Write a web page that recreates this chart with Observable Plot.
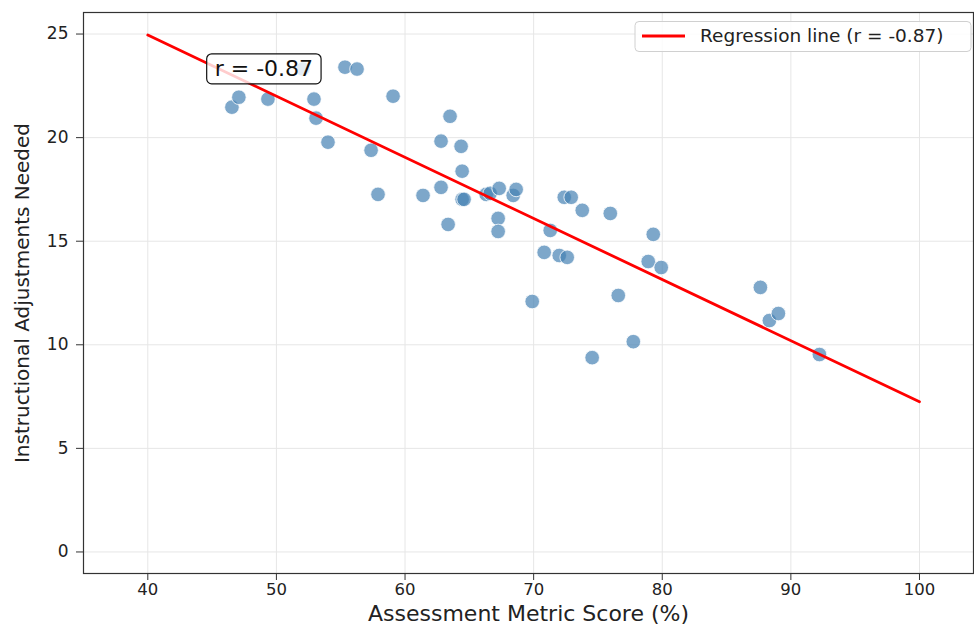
<!DOCTYPE html>
<html>
<head>
<meta charset="utf-8">
<script src="https://cdn.jsdelivr.net/npm/d3@7"></script>
<script src="https://cdn.jsdelivr.net/npm/@observablehq/plot@0.6"></script>
<style>
  body { margin: 0; background: #fff; }
  #chart { position: relative; width: 974px; height: 625px; }
  svg { font-family: "DejaVu Sans", sans-serif; }
</style>
</head>
<body>
<div id="chart"></div>
<script>
// ---- data ----
const scores = [46.54, 47.08, 49.34, 52.06, 52.92, 53.08, 54.01, 55.33, 56.27, 57.36,
  57.90, 59.07, 61.40, 62.80, 62.80, 63.35, 63.50, 64.36, 64.44, 64.44,
  64.59, 66.31, 66.62, 67.32, 67.24, 67.24, 68.41, 68.64, 69.89, 70.82,
  71.29, 71.99, 72.61, 72.38, 72.92, 73.78, 74.55, 75.96, 76.58, 77.75,
  78.91, 79.30, 79.92, 87.63, 88.33, 89.03, 92.22];
const adjustments = [21.47, 21.95, 21.86, 23.31, 21.86, 20.94, 19.78, 23.40, 23.31, 19.39,
  17.26, 22.00, 17.21, 19.83, 17.60, 15.81, 21.03, 19.58, 18.38, 17.02,
  17.02, 17.26, 17.31, 17.55, 16.10, 15.47, 17.21, 17.50, 12.09, 14.46,
  15.52, 14.31, 14.22, 17.12, 17.12, 16.49, 9.38, 16.34, 12.38, 10.15,
  14.02, 15.33, 13.73, 12.77, 11.17, 11.51, 9.53];
const lineX = [40, 100];
const lineY = [24.95, 7.25];
const xTicks = [40, 50, 60, 70, 80, 90, 100];
const yTicks = [0, 5, 10, 15, 20, 25];
const xLabel = "Assessment Metric Score (%)";
const yLabel = "Instructional Adjustments Needed";
const rLabel = "r = -0.87";
const legendLabel = "Regression line (r = -0.87)";

const points = scores.map((x, i) => ({x, y: adjustments[i]}));
const fit = lineX.map((x, i) => ({x, y: lineY[i]}));

const plot = Plot.plot({
  width: 974,
  height: 625,
  marginLeft: 83,
  marginRight: 1,
  marginTop: 12,
  marginBottom: 52,
  style: {fontFamily: "DejaVu Sans", background: "#fff", color: "#222"},
  x: {domain: [35, 104.2]},
  y: {domain: [-1.04, 26.04]},
  marks: [
    Plot.gridX(xTicks, {stroke: "#e6e6e6", strokeOpacity: 1, strokeWidth: 1}),
    Plot.gridY(yTicks, {stroke: "#e6e6e6", strokeOpacity: 1, strokeWidth: 1}),
    Plot.dot(points, {x: "x", y: "y", r: 7.3, fill: "#4682b4", fillOpacity: 0.7, stroke: "#fff", strokeWidth: 0.8}),
    Plot.line(fit, {x: "x", y: "y", stroke: "#ff0000", strokeWidth: 2.8}),
    Plot.frame({stroke: "#333", strokeWidth: 1.2}),
    Plot.axisX(xTicks, {tickSize: 7, tickPadding: 3, fontSize: 16.5, label: null, stroke: "#333"}),
    Plot.axisY(yTicks, {tickSize: 7, tickPadding: 8, fontSize: 17, label: null, stroke: "#333"}),
    Plot.text([xLabel], {frameAnchor: "bottom", textAnchor: "middle", lineAnchor: "bottom", dy: 47, fontSize: 22, fill: "#222"}),
    Plot.text([yLabel], {frameAnchor: "left", textAnchor: "middle", rotate: -90, lineAnchor: "middle", dx: -61, fontSize: 20, fill: "#222"}),
    Plot.text([rLabel], {x: [45.2], y: [23.3], text: d => d, textAnchor: "start", lineAnchor: "middle", fontSize: 22, fill: "#111"})
  ]
});

document.getElementById("chart").append(plot);

const svg = d3.select(plot);
const svgRect = plot.getBoundingClientRect();
const ns = "http://www.w3.org/2000/svg";

// box behind the r annotation
const annText = svg.selectAll("text").filter(function () { return this.textContent === rLabel; }).node();
if (annText) {
  const b = annText.getBoundingClientRect();
  const g = annText.parentNode;
  const rect = document.createElementNS(ns, "rect");
  rect.setAttribute("x", b.left - svgRect.left - 8);
  rect.setAttribute("y", (b.top + b.bottom) / 2 - svgRect.top - 15);
  rect.setAttribute("width", b.width + 16);
  rect.setAttribute("height", 30);
  rect.setAttribute("rx", 5);
  rect.setAttribute("fill", "#fff");
  rect.setAttribute("fill-opacity", 0.8);
  rect.setAttribute("stroke", "#111");
  rect.setAttribute("stroke-width", 1.2);
  g.parentNode.insertBefore(rect, g);
}

// legend (top right, inside the frame)
const leg = svg.append("g").attr("class", "legend").attr("text-anchor", "start");
leg.append("rect").attr("x", 635).attr("y", 21.5).attr("width", 336).attr("height", 30).attr("rx", 4)
  .attr("fill", "#fff").attr("fill-opacity", 0.85).attr("stroke", "#d0d0d0");
leg.append("line").attr("x1", 642).attr("x2", 685).attr("y1", 36).attr("y2", 36)
  .attr("stroke", "#ff0000").attr("stroke-width", 2.8);
leg.append("text").attr("x", 700).attr("y", 36).attr("dy", "0.35em").attr("text-anchor", "start")
  .attr("font-size", 18.5).attr("fill", "#222").text(legendLabel);
</script>
</body>
</html>
